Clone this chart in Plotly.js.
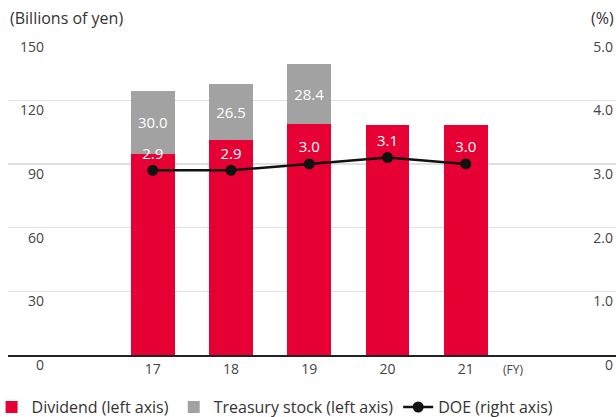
<!DOCTYPE html>
<html><head><meta charset="utf-8">
<script src="https://cdn.plot.ly/plotly-3.0.1.min.js"></script>
<style>html,body{margin:0;padding:0;background:#fff}#c{width:616px;height:417px}</style>
</head><body><div id="c"></div>
<script>
const years = ['17','18','19','20','21'];
const dividend = [94.6, 101.4, 108.9, 108.5, 108.5];
const treasury = [30.0, 26.5, 28.4, null, null];
const doe = [2.9, 2.9, 3.0, 3.1, 3.0];
const leftTicks = [0, 30, 60, 90, 120, 150];
const rightTicks = [0, 1, 2, 3, 4, 5];
const rightTickText = ['0', '1.0', '2.0', '3.0', '4.0', '5.0'];

const RED = '#e60033', GRAY = '#a2a2a2', TXT = '#444';
const FONT = 'Open Sans, sans-serif';
const PAD = 1.002;

const traces = [
  {type:'bar', name:'Dividend (left axis)', x:years, y:dividend, marker:{color:RED},
   width:0.56, hoverinfo:'none'},
  {type:'bar', name:'Treasury stock (left axis)', x:years, y:treasury, marker:{color:GRAY},
   width:0.56, hoverinfo:'none', text:treasury.map(v=>v==null?'':v.toFixed(1)),
   textposition:'inside', insidetextanchor:'middle', textangle:0,
   textfont:{color:'#fff', size:15, family:FONT}},
  {type:'scatter', mode:'lines+markers+text', name:'DOE (right axis)', x:years, y:doe, yaxis:'y2',
   line:{color:'#111', width:2.5}, marker:{color:'#111', size:11},
   text:doe.map(v=>v.toFixed(1)), textposition:'top center',
   textfont:{color:'#fff', size:15, family:FONT}, hoverinfo:'none', cliponaxis:false}
];

const annotations = years.map((yr,i)=>({
  x:yr, y:41, xref:'x', yref:'y', text:dividend[i].toFixed(1), showarrow:false,
  font:{color:'#fff', size:15, family:FONT}
}));
annotations.push({xref:'paper', yref:'paper', x:0, y:1.056, xanchor:'left', yanchor:'middle',
  text:'(Billions of yen)', showarrow:false, font:{size:16, color:'#333', family:FONT}});
annotations.push({xref:'paper', yref:'paper', x:1.0, y:1.056, xanchor:'right', yanchor:'middle',
  text:'(%)', showarrow:false, font:{size:16, color:'#333', family:FONT}});
annotations.push({xref:'paper', yref:'paper', x:0.83, y:-0.044, xanchor:'center', yanchor:'middle',
  text:'(FY)', showarrow:false, font:{size:12, color:TXT, family:FONT}});

const layout = {
  width:616, height:417,
  margin:{l:8, r:0, t:36, b:62, autoexpand:false},
  paper_bgcolor:'#fff', plot_bgcolor:'#fff',
  font:{family:FONT, color:TXT, size:14},
  barmode:'stack', showlegend:true,
  legend:{orientation:'h', traceorder:'normal', x:-0.027, xanchor:'left', y:-0.11, yanchor:'top',
          font:{size:16, color:'#333', family:FONT}, itemwidth:30, tracegroupgap:0},
  xaxis:{type:'category', range:[-1.85, 5.92], showgrid:false, zeroline:false, automargin:false,
         showline:true, linecolor:'#222', linewidth:1.5, ticks:'', fixedrange:true,
         ticklabelstandoff:1, tickfont:{size:14, color:TXT}},
  yaxis:{range:[0,150*PAD], tickvals:leftTicks, ticktext:leftTicks.map(String), automargin:false,
         showgrid:true, gridcolor:'#e0e0e0', gridwidth:1.5, zeroline:false, showline:false,
         ticks:'', ticklabelposition:'outside', ticklabelstandoff:-37, ticklabelshift:10,
         tickfont:{size:14, color:TXT}},
  yaxis2:{range:[0,5*PAD], overlaying:'y', side:'right', tickvals:rightTicks, ticktext:rightTickText,
          showgrid:false, zeroline:false, showline:false, ticks:'', automargin:false,
          ticklabelposition:'inside', ticklabelstandoff:0, ticklabelshift:10,
          ticklabeloverflow:'allow', tickfont:{size:14, color:TXT}},
  annotations:annotations
};
Plotly.newPlot('c', traces, layout, {displayModeBar:false, staticPlot:true});
</script></body></html>
